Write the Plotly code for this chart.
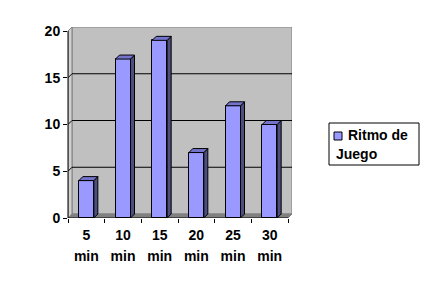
import plotly.graph_objects as go

# ---------------- data ----------------
categories = ["5", "10", "15", "20", "25", "30"]
unit_labels = ["min", "min", "min", "min", "min", "min"]
values = [4, 17, 19, 7, 12, 10]
y_ticks = [0, 5, 10, 15, 20]
legend_lines = ["Ritmo de", "Juego"]
series_name = "Ritmo de Juego"

# ---------------- geometry ----------------
W, H = 432, 288
L, R, T, B = 68, 140, 27, 70
pw = W - L - R
ph = H - T - B
n = len(categories)
depth_px = 4
px_per_x = (pw - depth_px) / n
DX = depth_px / px_per_x
y_top = max(y_ticks)
px_per_y = (ph - depth_px) / y_top
DY = depth_px / px_per_y
xr = [-0.5, n - 0.5 + DX]
yr = [0, y_top + DY]
BW = 15 / px_per_x

FRONT = "#9999FF"
SIDE = "#4D4D80"
TOP = "#7373CC"
FONT = dict(family="Liberation Sans, Arial, sans-serif", size=14, color="black", weight="bold")

def px_x(p):
    return (p - L) / pw

def px_y(p):
    return (H - B - p) / ph

fig = go.Figure()

# front faces
xs = list(range(n))
fig.add_trace(go.Bar(
    x=xs, y=values, width=BW, name=series_name,
    marker=dict(color=FRONT, line=dict(color="black", width=1)),
    hoverinfo="skip", showlegend=False,
))

# side faces
sx, sy = [], []
for x, v in zip(xs, values):
    r = x + BW / 2
    sx += [r, r + DX, r + DX, r, r, None]
    sy += [0, DY, v + DY, v, 0, None]
fig.add_trace(go.Scatter(
    x=sx, y=sy, mode="lines", fill="toself", fillcolor=SIDE,
    line=dict(color="black", width=1), hoverinfo="skip", showlegend=False,
))

# top faces
tx, ty = [], []
for x, v in zip(xs, values):
    l_ = x - BW / 2
    r = x + BW / 2
    tx += [l_, r, r + DX, l_ + DX, l_, None]
    ty += [v, v, v + DY, v + DY, v, None]
fig.add_trace(go.Scatter(
    x=tx, y=ty, mode="lines", fill="toself", fillcolor=TOP,
    line=dict(color="black", width=1), hoverinfo="skip", showlegend=False,
))

shapes = []
x0 = -0.5
# back wall
shapes.append(dict(type="rect", xref="x", yref="y", x0=x0 + DX, x1=xr[1], y0=DY, y1=yr[1],
                   fillcolor="#C0C0C0", line=dict(color="#808080", width=1), layer="below"))
# side wall
shapes.append(dict(type="path", xref="x", yref="y",
                   path=f"M {x0},{0} L {x0+DX},{DY} L {x0+DX},{y_top+DY} L {x0},{y_top} Z",
                   fillcolor="#D0D0D0", line=dict(color="#808080", width=1), layer="below"))
# floor
shapes.append(dict(type="path", xref="x", yref="y",
                   path=f"M {x0},{0} L {n-0.5},{0} L {n-0.5+DX},{DY} L {x0+DX},{DY} Z",
                   fillcolor="#808080", line=dict(color="#808080", width=1), layer="below"))
# gridlines
for v in y_ticks[1:-1]:
    shapes.append(dict(type="path", xref="x", yref="y",
                       path=f"M {x0},{v} L {x0+DX},{v+DY} L {xr[1]},{v+DY}",
                       line=dict(color="black", width=1), layer="below"))
# front axis lines
shapes.append(dict(type="line", xref="x", yref="y", x0=x0, x1=n - 0.5, y0=0, y1=0,
                   line=dict(color="black", width=1), layer="below"))
shapes.append(dict(type="line", xref="paper", yref="y", x0=0, x1=0, y0=0, y1=y_top,
                   line=dict(color="black", width=1), layer="above"))

# manual legend
shapes.append(dict(type="rect", xref="paper", yref="paper",
                   x0=px_x(329), x1=px_x(419), y0=px_y(165), y1=px_y(123),
                   fillcolor="white", line=dict(color="black", width=1)))
shapes.append(dict(type="rect", xref="paper", yref="paper",
                   x0=px_x(334), x1=px_x(342), y0=px_y(140), y1=px_y(132),
                   fillcolor=FRONT, line=dict(color="black", width=1)))
annotations = [
    dict(text=legend_lines[0], xref="paper", yref="paper", x=px_x(346), y=px_y(135),
         xanchor="left", yanchor="middle", showarrow=False, font=FONT),
    dict(text=legend_lines[1], xref="paper", yref="paper", x=px_x(334), y=px_y(154),
         xanchor="left", yanchor="middle", showarrow=False, font=FONT),
]

fig.update_layout(
    width=W, height=H,
    margin=dict(l=L, r=R, t=T, b=B, pad=0),
    paper_bgcolor="white", plot_bgcolor="white",
    shapes=shapes, annotations=annotations,
    showlegend=False,
    bargap=0,
    xaxis=dict(
        range=xr, tickmode="array", tickvals=xs, ticktext=categories,
        ticks="", showgrid=False, zeroline=False, showline=False,
        tickfont=FONT, ticklabelstandoff=7, fixedrange=True,
        minor=dict(tickmode="array", tickvals=[i - 0.5 for i in range(n + 1)],
                   ticks="outside", ticklen=4, tickcolor="black", showgrid=False),
    ),
    xaxis2=dict(
        range=xr, overlaying="x", side="bottom", anchor="y",
        tickmode="array", tickvals=xs, ticktext=unit_labels,
        ticks="", showgrid=False, zeroline=False, showline=False,
        tickfont=FONT, ticklabelstandoff=28, fixedrange=True,
    ),
    yaxis=dict(
        range=yr, tickmode="array", tickvals=y_ticks,
        ticks="outside", ticklen=4, tickcolor="black",
        showgrid=False, zeroline=False, showline=False,
        tickfont=FONT, fixedrange=True,
    ),
)

# dummy trace to activate xaxis2
fig.add_trace(go.Scatter(x=[None], y=[None], xaxis="x2", yaxis="y", showlegend=False, hoverinfo="skip"))

fig.write_html("out.html")
